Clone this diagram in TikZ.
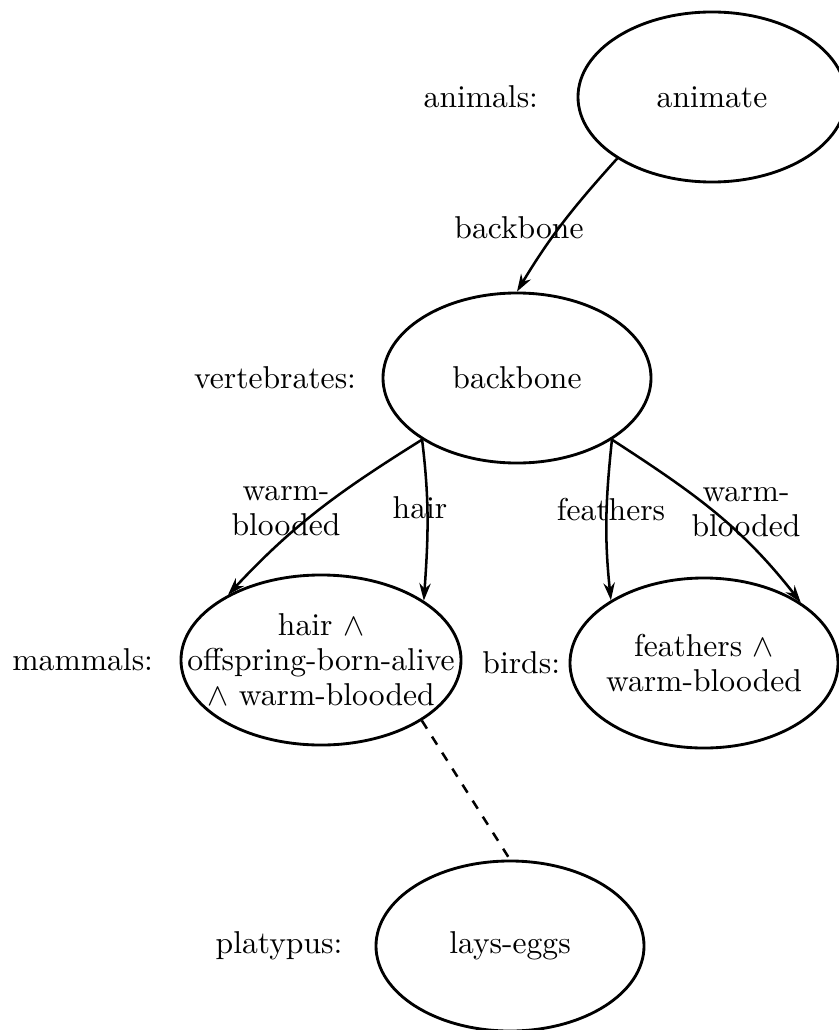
\documentclass[tikz,border=0pt]{standalone}
\usepackage{xcolor}
\usepackage{tikz}
\usetikzlibrary{shapes.geometric, positioning, arrows.meta}

\begin{document}
\begin{tikzpicture}[x=0.3164pt, y=-0.3164pt, >={Stealth[length=5.5pt,width=3.6pt]},
    concept/.style={draw, ellipse, line width=0.9pt, minimum width=84.8pt, minimum height=53.8pt},
    tag/.style={inner sep=0pt},
    inside/.style={inner sep=0pt, align=center, font=\linespread{0.92}\selectfont},
    link/.style={->, thick}]
        \useasboundingbox (0,0) rectangle (838,1030);
        % the concepts
        \node[concept] (animate) at (712,97) {animate};
        \node[concept] (backbone) at (517,378) {backbone};
        \node[concept, minimum width=88.6pt, label={[inside]center:hair $\wedge$\\offspring-born-alive\\$\wedge$ warm-blooded}] (mammals) at (321,660) {};
        \node[concept, label={[inside]center:feathers $\wedge$\\warm-blooded}] (birds) at (704,663) {};
        \node[concept] (layseggs) at (510,946) {lays-eggs};
        % the names
        \node[tag, left=12pt of animate] (animals) {animals:};
        \node[tag, left=7.9pt of backbone] (vertebrates) {vertebrates:};
        \node[tag, left=8.2pt of mammals] (mammalstag) {mammals:};
        \node[tag, left=2.5pt of birds] (birdstag) {birds:};
        \node[tag, left=10pt of layseggs] (platypus) {platypus:};
        % the links
        \draw[link] (animate.213) to[out=228, in=59] (backbone.90);
        \draw[link] (backbone.213) to[out=212, in=47] (mammals.145);
        \draw[link] (backbone.213) to[out=277, in=86] (mammals.30);
        \draw[link] (backbone.327) to[out=264, in=96] (birds.146);
        \draw[link] (backbone.327) to[out=327, in=128] (birds.32);
        \draw[thick, dashed] (mammals.329) -- (layseggs.north);
        \node (lbackbone) at (519,228) {backbone};
        \node[inside] (lwarmleft) at (286,511) {warm-\\blooded};
        \node (lhair) at (420,508) {hair};
        \node (lfeathers) at (611,510) {feathers};
        \node[inside] (lwarmright) at (746,512) {warm-\\blooded};
    \end{tikzpicture}
\end{document}
